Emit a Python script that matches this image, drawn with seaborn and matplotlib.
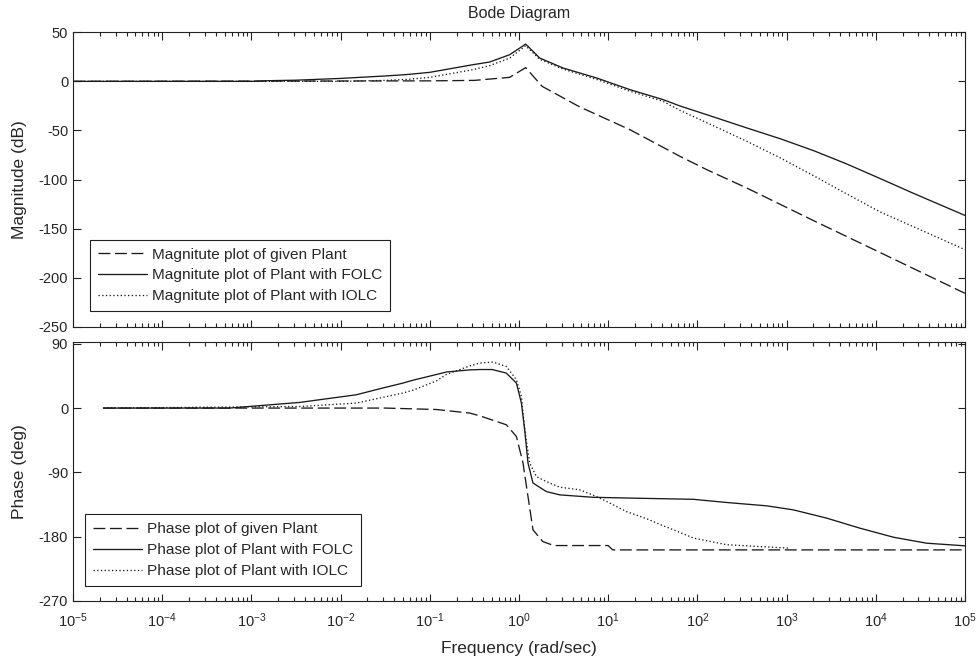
import numpy as np
import pandas as pd
import matplotlib
matplotlib.use("Agg")
import matplotlib.pyplot as plt
from matplotlib.ticker import FixedLocator
import seaborn as sns

# ---------------- data (log10 of frequency in rad/sec) ----------------
mag_given_logw = [-5, -1, -0.5, -0.104, 0.075, 0.26, 0.68, 1.243, 1.803, 2.103, 2.552, 3.30, 4.048, 5.0]
mag_given = [0, 0.5, 1.0, 4.1, 14.0, -5.1, -26, -49.2, -76.3, -89.9, -108.6, -141.8, -174.4, -216]

mag_folc_logw = [-5, -3.0, -2.8, -2.5, -2.0, -1.5, -1.25, -1.0, -0.516, -0.329, -0.104, 0.075,
                 0.232, 0.494, 0.869, 1.243, 1.616, 1.803, 2.103, 2.552, 2.93, 3.30, 3.67,
                 4.048, 4.42, 5.0]
mag_folc = [0, 0, 0.7, 1.2, 3.0, 5.5, 7.0, 9.2, 17.0, 19.7, 27.2, 38.0,
            23.8, 13.6, 3.5, -8.4, -18.6, -25.0, -33.9, -47.4, -58.5, -70.5, -84.0,
            -99.0, -114.0, -136.6]

mag_iolc_logw = [-5, -2.0, -1.5, -1.25, -1.0, -0.516, -0.329, -0.104, 0.075, 0.232, 0.494,
                 0.869, 1.243, 1.616, 1.803, 2.103, 2.552, 2.93, 3.30, 3.67, 4.048, 4.42, 5.0]
mag_iolc = [0, 0, 1.0, 2.0, 4.1, 11.9, 16.0, 23.8, 36.3, 22.5, 12.5,
            2.0, -10.0, -20.4, -29.5, -42.0, -61.0, -78.0, -96.0, -114.5, -133.0, -148.0, -171.5]

ph_given_logw = [-4.66, -1.5, -0.927, -0.553, -0.441, -0.142, -0.029, 0.045, 0.101, 0.157,
                 0.266, 0.39, 1.0, 1.05, 5.0]
ph_given = [0, 0, -2, -7, -10.8, -23.4, -39.8, -77, -124, -170.6,
            -187, -192.6, -192.6, -198.7, -198.7]

ph_folc_logw = [-4.66, -3.247, -2.461, -1.825, -1.563, -1.302, -1.19, -0.927, -0.815, -0.553,
                -0.441, -0.3, -0.142, -0.029, 0.027, 0.064, 0.101, 0.157, 0.307, 0.457,
                0.83, 1.4, 1.953, 2.33, 2.78, 3.075, 3.45, 3.82, 4.2, 4.57, 5.0]
ph_folc = [0, 0, 7.9, 18.6, 27, 35, 39, 47, 50.5, 53.5,
           54, 54, 49, 35, 7, -30.4, -77, -105, -117, -121.6,
           -125, -126.5, -127.8, -132.3, -137, -142.6, -154.2, -168.2, -181, -189.3, -193]

ph_iolc_logw = [-4.66, -2.461, -1.825, -1.563, -1.302, -1.19, -0.927, -0.815, -0.553, -0.441,
                -0.292, -0.142, -0.029, 0.027, 0.064, 0.120, 0.195, 0.307, 0.457, 0.681,
                0.83, 0.906, 1.205, 1.43, 1.58, 1.80, 1.953, 2.33, 3.04]
ph_iolc = [0, 2.2, 7, 14, 21, 25, 38, 47, 59, 63,
           64.5, 58.3, 39.7, 16.3, -30.4, -77, -95.9, -103, -110.8, -114.5,
           -122, -126, -145, -155, -163, -174, -182, -191.5, -196.3]

labels_mag = ["Magnitute plot of given Plant", "Magnitute plot of Plant with FOLC",
              "Magnitute plot of Plant with IOLC"]
labels_ph = ["Phase plot of given Plant", "Phase plot of Plant with FOLC",
             "Phase plot of Plant with IOLC"]
x_decades = list(range(-5, 6))
mag_ticks = [-250, -200, -150, -100, -50, 0, 50]
phase_ticks = [-270, -180, -90, 0, 90]

# ---------------- style ----------------
sns.set_style("ticks")
plt.rcParams["font.family"] = ["Liberation Sans", "DejaVu Sans"]
plt.rcParams["axes.linewidth"] = 0.8
plt.rcParams["axes.edgecolor"] = "#222222"
plt.rcParams["axes.unicode_minus"] = False

fig = plt.figure(figsize=(9.79, 6.65), dpi=100)
fig.patch.set_facecolor("white")
ax1 = fig.add_axes([0.07457, 0.50872, 0.9111, 0.44271])
ax2 = fig.add_axes([0.07457, 0.09549, 0.9111, 0.39068])

dash_style = (0, (9, 3.5))
dot_style = (0, (1, 1.8))
lc = "#1a1a1a"
lw = 0.95

def draw(ax, series, labels):
    styles = [dash_style, "-", dot_style]
    for (lw_, vals), lab, st in zip(series, labels, styles):
        df = pd.DataFrame({"w": 10.0 ** np.asarray(lw_), "v": vals})
        sns.lineplot(data=df, x="w", y="v", ax=ax, color=lc, linewidth=lw,
                     linestyle=st, label=lab, sort=False)

draw(ax1, [(mag_given_logw, mag_given), (mag_folc_logw, mag_folc), (mag_iolc_logw, mag_iolc)], labels_mag)
draw(ax2, [(ph_given_logw, ph_given), (ph_folc_logw, ph_folc), (ph_iolc_logw, ph_iolc)], labels_ph)

major_x = [10.0 ** d for d in x_decades]
minor_x = [m * 10.0 ** d for d in x_decades[:-1] for m in range(2, 10)]

for ax in (ax1, ax2):
    ax.set_xscale("log")
    ax.set_xlim(1e-5, 1e5)
    ax.xaxis.set_major_locator(FixedLocator(major_x))
    ax.xaxis.set_minor_locator(FixedLocator(minor_x))
    ax.tick_params(which="both", direction="in", top=True, right=True, labelsize=10.5,
                   color="#222222", width=0.8)
    ax.tick_params(which="major", length=5.4)
    ax.tick_params(which="minor", length=2.7)
    ax.tick_params(axis="x", which="major", pad=7)
    ax.set_xlabel("")
    for s in ax.spines.values():
        s.set_visible(True)

ax2.set_xticklabels([r"$\mathdefault{10^{%d}}$" % d for d in x_decades])

ax1.set_ylim(-250, 50)
ax1.yaxis.set_major_locator(FixedLocator(mag_ticks))
ax1.tick_params(axis="x", which="both", labelbottom=False)
ax1.set_ylabel("Magnitude (dB)", fontsize=12.5)
ax1.yaxis.set_label_coords(-0.052, 0.5)
ax1.set_title("Bode Diagram", fontsize=11.5, pad=10)

ax2.set_ylim(-271, 93)
ax2.yaxis.set_major_locator(FixedLocator(phase_ticks))
ax2.set_ylabel("Phase (deg)", fontsize=12.5)
ax2.yaxis.set_label_coords(-0.052, 0.5)
ax2.set_xlabel("Frequency (rad/sec)", fontsize=12.5)
ax2.xaxis.set_label_coords(0.5, -0.153)

leg_kw = dict(loc="lower left", frameon=True, fancybox=False, shadow=False, fontsize=11.1,
              handlelength=3.2, handletextpad=0.35, labelspacing=0.45, borderpad=0.5,
              borderaxespad=0.0, framealpha=1.0, edgecolor="#222222")
l1 = ax1.legend(bbox_to_anchor=(0.019, 0.053), **leg_kw)
l2 = ax2.legend(bbox_to_anchor=(0.0135, 0.061), **leg_kw)
for lg in (l1, l2):
    lg.get_frame().set_linewidth(0.8)

fig.savefig("out.png", dpi=100, facecolor="white")
